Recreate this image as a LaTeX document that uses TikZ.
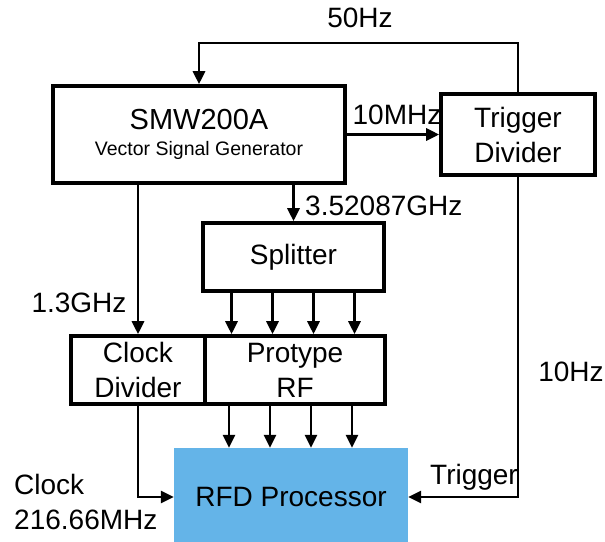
\documentclass[tikz,border=0pt]{standalone}
\usepackage{fontspec}
\setmainfont{Liberation Sans}
\usetikzlibrary{positioning,arrows.meta}
\definecolor{rfdblue}{RGB}{100,180,232}
\tikzset{
  blockbox/.style={draw, line width=3.6pt, align=center, inner sep=0pt,
    font=\fontsize{28}{35}\selectfont},
  sigline/.style={line width=2.8pt},
  sigarrow/.style={sigline, -{Triangle[length=13pt,width=12pt]}},
  siglabel/.style={font=\fontsize{28}{35}\selectfont, align=left, inner sep=0pt},
}

\begin{document}
\begin{tikzpicture}[x=1pt, y=-1pt]
  \useasboundingbox (0,0) rectangle (605,541);
  \node[blockbox, minimum width=292pt, minimum height=97pt] (smw) at (199,134.5)
    {{\fontsize{29}{30}\selectfont SMW200A}\\[-9pt]{\fontsize{19.5}{22}\selectfont Vector Signal Generator}};
  \node[blockbox, minimum width=154pt, minimum height=81pt] (trig) at (518,134.5) {Trigger\\Divider};
  \node[blockbox, minimum width=181pt, minimum height=68pt] (split) at (293.5,257) {Splitter};
  \node[blockbox, minimum width=134pt, minimum height=68pt] (clk) at (138,370) {Clock\\Divider};
  \node[blockbox, minimum width=180pt, minimum height=68pt] (proto) at (295,370) {Protype\\RF};
  \node[fill=rfdblue, inner sep=0pt, minimum width=234pt, minimum height=98pt,
    font=\fontsize{28}{35}\selectfont] (rfd) at (291,497) {RFD Processor};
  \coordinate (loop) at (360,43);
  \draw[sigarrow] (trig.north) |- (loop) -| (smw.north);
  \draw[sigarrow] (smw.east) -- (trig.west);
  \draw[sigarrow] (smw.south -| split.north) -- (split.north);
  \draw[sigarrow] (smw.south -| clk.north) -- (clk.north);
  \foreach \dx in {-62,-21,20,61} {
    \draw[sigarrow] ([xshift=\dx pt]split.south) -- ([xshift=\dx pt]split.south |- proto.north);
    \draw[sigarrow] ([xshift=\dx pt]rfd.north |- proto.south) -- ([xshift=\dx pt]rfd.north);
  }
  \draw[sigarrow] (clk.south) |- (rfd.west);
  \draw[sigarrow] (trig.south) |- (rfd.east);
  \node[siglabel] (l50) at (360,18) {50Hz};
  \node[siglabel] (l10m) at (397,115) {10MHz};
  \node[siglabel, anchor=west] (l352) at (305,206) {3.52087GHz};
  \node[siglabel] (l13) at (79,303) {1.3GHz};
  \node[siglabel] (l10) at (571,372) {10Hz};
  \node[siglabel] (ltrig) at (474,477) {Trigger};
  \node[siglabel, anchor=west] (lclk) at (14,502) {Clock\\216.66MHz};
\end{tikzpicture}
\end{document}
